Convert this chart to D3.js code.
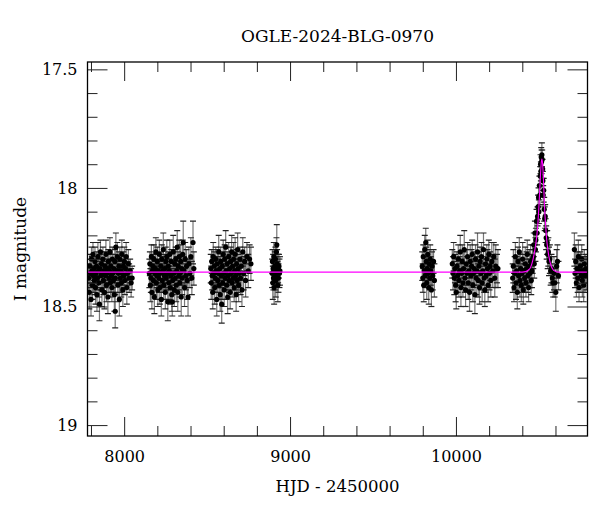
<!DOCTYPE html>
<html>
<head>
<meta charset="utf-8">
<script src="https://cdn.jsdelivr.net/npm/d3@7"></script>
<style>
  html, body { margin: 0; padding: 0; background: #fff; }
  svg { display: block; }
</style>
</head>
<body>
<div id="chart"></div>
<script>
// ---------- data ----------
const title = "OGLE-2024-BLG-0970";
const xLabel = "HJD - 2450000";
const yLabel = "I magnitude";

const xMajorTicks = [8000, 9000, 10000];
const xMinorTicks = [7800, 8200, 8400, 8600, 8800, 9200, 9400, 9600, 9800, 10200, 10400, 10600];
const yMajorTicks = [17.5, 18, 18.5, 19];
const yMinorTicks = [17.6, 17.7, 17.8, 17.9, 18.1, 18.2, 18.3, 18.4, 18.6, 18.7, 18.8, 18.9];

// [HJD-2450000, I mag, error]
const season1 = [[7786,18.38,.06],[7790,18.44,.07],[7793,18.33,.05],[7797,18.36,.06],[7800,18.47,.07],[7803,18.30,.05],[7806,18.35,.06],[7809,18.41,.06],[7812,18.28,.05],[7815,18.37,.07],[7818,18.34,.05],[7821,18.39,.06],[7824,18.31,.06],[7827,18.42,.07],[7830,18.36,.05],[7833,18.33,.06],[7836,18.45,.07],[7839,18.38,.05],[7842,18.29,.06],[7845,18.35,.05],[7848,18.40,.06],[7851,18.49,.07],[7854,18.34,.06],[7857,18.27,.05],[7860,18.37,.06],[7863,18.32,.05],[7866,18.43,.07],[7869,18.36,.06],[7872,18.30,.05],[7875,18.39,.06],[7878,18.35,.05],[7881,18.44,.07],[7884,18.33,.06],[7887,18.37,.05],[7890,18.28,.06],[7893,18.41,.07],[7896,18.36,.05],[7899,18.34,.06],[7902,18.46,.07],[7905,18.31,.05],[7908,18.38,.06],[7911,18.35,.05],[7914,18.27,.06],[7917,18.40,.06],[7920,18.33,.05],[7923,18.37,.07],[7926,18.42,.06],[7929,18.30,.05],[7932,18.36,.06],[7935,18.39,.05],[7938,18.34,.06],[7941,18.45,.07],[7944,18.31,.05],[7947,18.38,.06],[7950,18.25,.06],[7946,18.52,.07],[7956,18.35,.05],[7959,18.29,.06],[7962,18.41,.07],[7965,18.36,.05],[7968,18.33,.06],[7971,18.47,.07],[7974,18.30,.05],[7977,18.38,.06],[7980,18.35,.05],[7983,18.40,.06],[7986,18.28,.06],[7989,18.36,.05],[7992,18.43,.07],[7995,18.33,.06],[7998,18.37,.05],[8001,18.31,.06],[8004,18.39,.06],[8008,18.34,.05],[8012,18.29,.06],[8016,18.42,.07],[8020,18.36,.05],[8025,18.32,.06],[8030,18.38,.06],[8036,18.35,.05],[8042,18.40,.06],[8048,18.38,.05]];

const season2 = [[8152,18.36,.06],[8155,18.32,.05],[8158,18.41,.07],[8161,18.38,.06],[8164,18.29,.05],[8167,18.44,.07],[8170,18.35,.06],[8173,18.33,.05],[8176,18.39,.06],[8179,18.30,.06],[8182,18.46,.07],[8185,18.36,.05],[8188,18.34,.06],[8191,18.27,.06],[8194,18.40,.07],[8197,18.37,.05],[8200,18.31,.06],[8203,18.43,.07],[8206,18.35,.05],[8209,18.38,.06],[8212,18.28,.06],[8215,18.42,.07],[8218,18.36,.05],[8221,18.33,.06],[8224,18.47,.07],[8227,18.30,.06],[8230,18.39,.05],[8233,18.35,.06],[8236,18.26,.07],[8239,18.41,.06],[8242,18.37,.05],[8245,18.34,.06],[8248,18.44,.07],[8251,18.31,.06],[8254,18.38,.05],[8257,18.29,.07],[8260,18.36,.06],[8263,18.48,.08],[8266,18.33,.06],[8269,18.40,.07],[8272,18.35,.05],[8275,18.28,.06],[8278,18.42,.07],[8281,18.37,.06],[8284,18.31,.05],[8287,18.45,.07],[8290,18.48,.06],[8293,18.39,.06],[8296,18.27,.07],[8299,18.36,.05],[8302,18.43,.07],[8305,18.32,.06],[8308,18.38,.06],[8311,18.30,.05],[8314,18.41,.07],[8317,18.35,.06],[8320,18.25,.07],[8323,18.44,.08],[8326,18.33,.06],[8329,18.37,.06],[8332,18.29,.07],[8335,18.40,.06],[8338,18.36,.05],[8341,18.31,.07],[8344,18.46,.08],[8347,18.34,.06],[8350,18.38,.07],[8353,18.28,.06],[8356,18.23,.09],[8360,18.35,.06],[8364,18.42,.08],[8368,18.30,.07],[8372,18.37,.06],[8376,18.33,.07],[8380,18.39,.08],[8385,18.46,.08],[8390,18.32,.07],[8396,18.36,.06],[8402,18.29,.08],[8408,18.38,.07],[8415,18.23,.09],[8420,18.34,.07]];

const season3 = [[8522,18.34,.06],[8525,18.40,.07],[8528,18.31,.05],[8531,18.37,.06],[8534,18.44,.07],[8537,18.29,.06],[8540,18.36,.05],[8543,18.33,.06],[8546,18.42,.07],[8549,18.38,.06],[8552,18.30,.05],[8555,18.35,.06],[8558,18.47,.07],[8561,18.32,.06],[8564,18.39,.05],[8567,18.36,.06],[8570,18.27,.07],[8573,18.41,.06],[8576,18.34,.05],[8579,18.45,.07],[8582,18.31,.06],[8585,18.37,.05],[8588,18.49,.08],[8591,18.33,.06],[8594,18.40,.07],[8597,18.28,.06],[8600,18.36,.05],[8603,18.43,.07],[8606,18.30,.06],[8609,18.38,.05],[8612,18.25,.07],[8615,18.35,.06],[8618,18.41,.06],[8621,18.32,.05],[8624,18.46,.07],[8627,18.37,.06],[8630,18.29,.06],[8633,18.39,.05],[8636,18.34,.06],[8639,18.44,.07],[8642,18.31,.06],[8645,18.36,.05],[8648,18.27,.07],[8651,18.40,.06],[8654,18.33,.06],[8657,18.38,.05],[8660,18.30,.07],[8663,18.42,.06],[8666,18.35,.05],[8669,18.28,.07],[8672,18.37,.06],[8675,18.45,.07],[8678,18.32,.06],[8681,18.39,.05],[8684,18.26,.07],[8687,18.34,.06],[8690,18.41,.07],[8694,18.36,.06],[8698,18.30,.05],[8702,18.38,.07],[8706,18.33,.06],[8710,18.43,.07],[8715,18.27,.06],[8720,18.36,.07],[8726,18.31,.06],[8732,18.39,.07],[8740,18.29,.06],[8748,18.35,.07],[8756,18.30,.06],[8764,18.32,.07]];

const season4 = [[8892,18.36,.06],[8894,18.31,.05],[8896,18.40,.07],[8898,18.34,.06],[8900,18.38,.05],[8902,18.29,.06],[8904,18.42,.07],[8906,18.35,.05],[8908,18.33,.06],[8910,18.37,.06],[8912,18.30,.05],[8914,18.39,.07],[8916,18.35,.06],[8918,18.27,.06],[8920,18.24,.085],[8922,18.32,.06],[8924,18.36,.05],[8926,18.41,.07],[8928,18.34,.06],[8930,18.38,.06],[8933,18.33,.05],[8936,18.36,.06],[8939,18.35,.06]];

const season5 = [[9797,18.33,.06],[9800,18.38,.06],[9803,18.29,.05],[9806,18.41,.07],[9809,18.35,.06],[9812,18.26,.06],[9815,18.37,.05],[9818,18.23,.06],[9821,18.31,.06],[9824,18.40,.07],[9827,18.34,.05],[9830,18.28,.06],[9833,18.36,.06],[9836,18.42,.07],[9839,18.32,.06],[9842,18.38,.05],[9845,18.30,.06],[9848,18.35,.06],[9852,18.43,.07],[9856,18.33,.06],[9860,18.37,.06],[9865,18.31,.05],[9870,18.39,.07]];

const season6 = [[9978,18.32,.06],[9982,18.36,.07],[9986,18.29,.06],[9990,18.38,.07],[9994,18.34,.06],[9998,18.41,.07],[10002,18.44,.07],[10006,18.33,.06],[10010,18.37,.07],[10014,18.30,.06],[10018,18.39,.07],[10022,18.35,.06],[10026,18.27,.07],[10030,18.42,.08],[10034,18.36,.06],[10038,18.31,.07],[10042,18.40,.06],[10046,18.34,.07],[10050,18.26,.08],[10054,18.38,.06],[10058,18.43,.07],[10062,18.32,.06],[10066,18.36,.07],[10070,18.29,.06],[10074,18.40,.07],[10078,18.35,.06],[10082,18.44,.08],[10086,18.31,.07],[10090,18.37,.06],[10094,18.33,.07],[10098,18.28,.06],[10102,18.41,.07],[10106,18.36,.06],[10110,18.34,.07],[10114,18.45,.08],[10118,18.30,.06],[10122,18.38,.07],[10126,18.35,.06],[10130,18.27,.08],[10134,18.39,.07],[10138,18.33,.06],[10142,18.42,.07],[10146,18.31,.06],[10150,18.36,.07],[10154,18.29,.06],[10158,18.40,.08],[10162,18.35,.06],[10166,18.26,.07],[10170,18.38,.06],[10174,18.43,.07],[10178,18.32,.06],[10182,18.37,.07],[10186,18.30,.06],[10190,18.34,.08],[10194,18.41,.07],[10198,18.28,.06],[10202,18.36,.07],[10206,18.33,.06],[10210,18.39,.07],[10216,18.31,.08],[10222,18.35,.07],[10228,18.29,.06],[10234,18.38,.08],[10240,18.33,.09],[10247,18.34,.06],[10253,18.34,.08]];

const season7 = [[10342,18.38,.06],[10346,18.33,.07],[10350,18.42,.06],[10354,18.36,.07],[10358,18.29,.06],[10362,18.40,.07],[10366,18.35,.06],[10370,18.44,.07],[10374,18.31,.06],[10378,18.37,.07],[10382,18.27,.06],[10386,18.39,.07],[10390,18.34,.06],[10394,18.41,.07],[10398,18.36,.06],[10402,18.30,.07],[10406,18.43,.06],[10410,18.35,.07],[10414,18.38,.06],[10418,18.32,.07],[10422,18.40,.06],[10426,18.34,.07],[10430,18.28,.06],[10434,18.37,.07],[10438,18.42,.06],[10442,18.33,.07],[10446,18.36,.06],[10450,18.31,.07],[10454,18.39,.06],[10458,18.35,.07],[10462,18.30,.06],
  [10466,18.29,.05],[10469,18.24,.05],[10472,18.32,.06],[10476,18.19,.05],[10479,18.26,.05],[10482,18.22,.05],[10486,18.14,.05],[10489,18.19,.05],[10492,18.12,.04],[10495,18.08,.05],[10498,18.04,.04],[10500,18.10,.05],[10503,17.99,.04],[10506,18.03,.04],[10508,17.95,.04],[10510,17.90,.04],[10512,17.93,.04],[10514,17.87,.04],[10516,17.89,.05],[10518,17.86,.05],[10520,17.88,.04],[10522,17.92,.04],[10524,17.97,.04],[10526,18.03,.04],[10529,18.01,.05],[10532,18.09,.05],[10535,18.13,.05],[10538,18.12,.05],[10541,18.18,.05],[10544,18.21,.05],[10547,18.24,.06],[10550,18.23,.05],[10553,18.28,.06],[10557,18.27,.06],[10561,18.31,.06],[10566,18.30,.06],[10571,18.35,.06],[10576,18.34,.06],[10581,18.38,.06],[10586,18.40,.06],[10591,18.36,.07],[10596,18.40,.06],[10602,18.44,.08],[10607,18.33,.07],[10612,18.31,.07],[10618,18.37,.06]];

const season8 = [[10714,18.26,.07],[10718,18.36,.06],[10722,18.31,.07],[10726,18.40,.06],[10730,18.34,.07],[10734,18.38,.06],[10738,18.29,.07],[10742,18.42,.06],[10746,18.35,.07],[10750,18.33,.06],[10754,18.37,.07],[10758,18.30,.06],[10762,18.39,.07],[10766,18.35,.06],[10770,18.41,.07],[10774,18.32,.06],[10778,18.37,.07],[10782,18.34,.06],[10786,18.36,.07]];

// model curve: [HJD-2450000, I mag]
const model = [[7779,18.355],[10400,18.355],[10420,18.353],[10435,18.347],[10450,18.335],[10465,18.30],[10476,18.26],[10486,18.21],[10494,18.15],[10500,18.08],[10505,18.01],[10510,17.94],[10514,17.895],[10518,17.878],[10522,17.895],[10526,17.94],[10530,18.01],[10534,18.08],[10540,18.15],[10546,18.21],[10554,18.26],[10562,18.295],[10572,18.325],[10586,18.345],[10600,18.352],[10620,18.355],[10793,18.355]];

// ---------- layout ----------
const W = 600, H = 512;
const L = 87.5, R = 587.5, T = 62, B = 436;
const font = "'DejaVu Serif', serif";

const x = d3.scaleLinear().domain([7779, 10793]).range([L, R]);
const y = d3.scaleLinear().domain([17.469, 19.046]).range([T, B]);

const svg = d3.select("#chart").append("svg")
  .attr("width", W).attr("height", H)
  .style("font-family", font);

svg.append("defs").append("clipPath").attr("id", "plotclip")
  .append("rect").attr("x", L).attr("y", T).attr("width", R - L).attr("height", B - T);

const data = [].concat(season1, season2, season3, season4, season5, season6, season7, season8);

const plot = svg.append("g").attr("clip-path", "url(#plotclip)");

// error bars
const eb = plot.append("g");
eb.selectAll("line.bar").data(data).join("line")
  .attr("class", "bar")
  .attr("x1", d => x(d[0])).attr("x2", d => x(d[0]))
  .attr("y1", d => y(d[1] - d[2])).attr("y2", d => y(d[1] + d[2]))
  .attr("stroke", "#777").attr("stroke-width", 1.2);
eb.selectAll("line.capt").data(data).join("line")
  .attr("class", "capt")
  .attr("x1", d => x(d[0]) - 3).attr("x2", d => x(d[0]) + 3)
  .attr("y1", d => y(d[1] - d[2])).attr("y2", d => y(d[1] - d[2]))
  .attr("stroke", "#222").attr("stroke-width", 1.2);
eb.selectAll("line.capb").data(data).join("line")
  .attr("class", "capb")
  .attr("x1", d => x(d[0]) - 3).attr("x2", d => x(d[0]) + 3)
  .attr("y1", d => y(d[1] + d[2])).attr("y2", d => y(d[1] + d[2]))
  .attr("stroke", "#222").attr("stroke-width", 1.2);

// points
plot.append("g").selectAll("circle").data(data).join("circle")
  .attr("cx", d => x(d[0])).attr("cy", d => y(d[1]))
  .attr("r", 2.6).attr("fill", "#000");

// model
plot.append("path").datum(model)
  .attr("fill", "none").attr("stroke", "#ff00ff").attr("stroke-width", 1.1)
  .attr("d", d3.line().x(d => x(d[0])).y(d => y(d[1])).curve(d3.curveMonotoneX));

// ---------- axes ----------
function styleAxis(g) {
  g.select(".domain").remove();
  g.selectAll(".tick line").attr("stroke", "#222").attr("stroke-width", 1);
  g.selectAll(".tick text").attr("font-family", font).attr("font-size", 16).attr("fill", "#000");
}
const fmt = d => String(d);

svg.append("g").attr("transform", `translate(0,${B})`)
  .call(d3.axisBottom(x).tickValues(xMajorTicks).tickSize(-19).tickPadding(15).tickFormat(fmt)).call(styleAxis);
svg.append("g").attr("transform", `translate(0,${B})`)
  .call(d3.axisBottom(x).tickValues(xMinorTicks).tickSize(-10).tickFormat("")).call(styleAxis);
svg.append("g").attr("transform", `translate(0,${T})`)
  .call(d3.axisTop(x).tickValues(xMajorTicks).tickSize(-19).tickFormat("")).call(styleAxis);
svg.append("g").attr("transform", `translate(0,${T})`)
  .call(d3.axisTop(x).tickValues(xMinorTicks).tickSize(-10).tickFormat("")).call(styleAxis);

svg.append("g").attr("transform", `translate(${L},0)`)
  .call(d3.axisLeft(y).tickValues(yMajorTicks).tickSize(-20).tickPadding(10).tickFormat(fmt)).call(styleAxis);
svg.append("g").attr("transform", `translate(${L},0)`)
  .call(d3.axisLeft(y).tickValues(yMinorTicks).tickSize(-10).tickFormat("")).call(styleAxis);
svg.append("g").attr("transform", `translate(${R},0)`)
  .call(d3.axisRight(y).tickValues(yMajorTicks).tickSize(-20).tickFormat("")).call(styleAxis);
svg.append("g").attr("transform", `translate(${R},0)`)
  .call(d3.axisRight(y).tickValues(yMinorTicks).tickSize(-10).tickFormat("")).call(styleAxis);

// frame
svg.append("rect").attr("x", L).attr("y", T).attr("width", R - L).attr("height", B - T)
  .attr("fill", "none").attr("stroke", "#000").attr("stroke-width", 1.3);

// labels
svg.append("text").attr("x", (L + R) / 2).attr("y", 42)
  .attr("text-anchor", "middle").attr("font-size", 17).text(title);
svg.append("text").attr("x", (L + R) / 2).attr("y", 492)
  .attr("text-anchor", "middle").attr("font-size", 16.5).text(xLabel);
svg.append("text").attr("transform", `translate(26,${(T + B) / 2}) rotate(-90)`)
  .attr("text-anchor", "middle").attr("font-size", 17).text(yLabel);
</script>
</body>
</html>
